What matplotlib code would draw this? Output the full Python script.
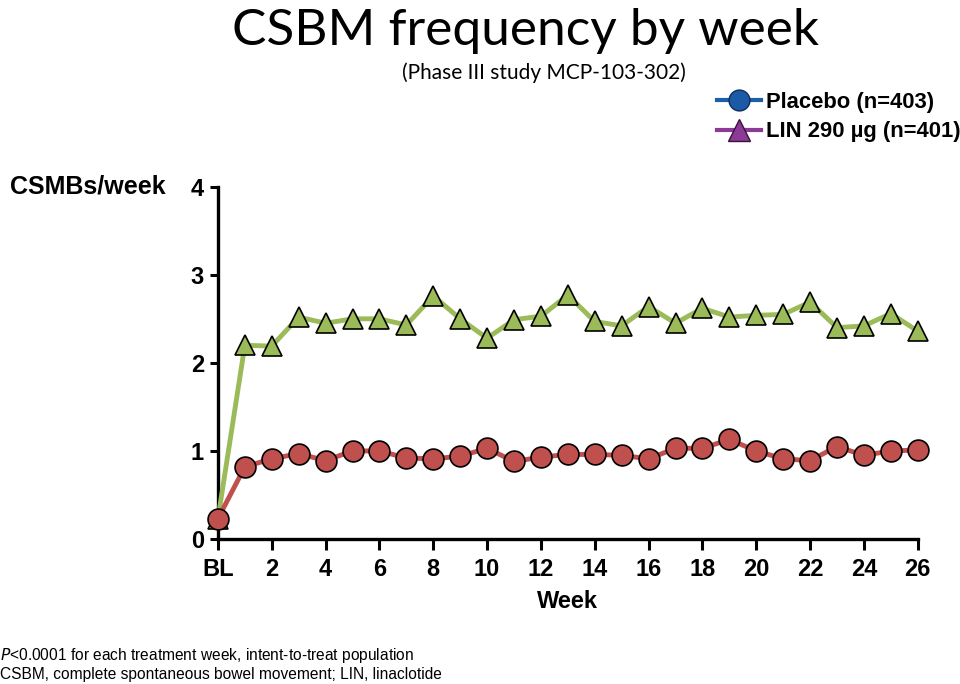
import matplotlib
matplotlib.use("Agg")
import matplotlib.pyplot as plt
from matplotlib.lines import Line2D

# weeks 0 (baseline) .. 26
weeks = list(range(0, 27))
placebo = [0.23, 0.82, 0.91, 0.97, 0.89, 1.00, 1.00, 0.92, 0.91, 0.94, 1.03,
           0.88, 0.93, 0.96, 0.96, 0.95, 0.91, 1.03, 1.03, 1.13, 1.00, 0.91,
           0.89, 1.05, 0.95, 1.00, 1.01]
lin290 = [0.23, 2.20, 2.19, 2.52, 2.45, 2.50, 2.50, 2.43, 2.76, 2.50, 2.28,
          2.49, 2.53, 2.77, 2.47, 2.42, 2.64, 2.45, 2.62, 2.52, 2.54, 2.55,
          2.69, 2.40, 2.42, 2.56, 2.36]
xtick_pos = list(range(0, 27, 2))
xtick_labels = ["BL"] + [str(w) for w in range(2, 27, 2)]

plt.rcParams['font.family'] = ['Liberation Sans', 'DejaVu Sans']

fig = plt.figure(figsize=(9.6, 6.84), dpi=100)
ax = fig.add_axes([0.227, 0.212, 0.729, 0.515])

green = '#9bbb59'
red = '#c0504d'
ax.plot(weeks, lin290, color=green, lw=3.5, marker='^', markersize=15,
        markerfacecolor=green, markeredgecolor='black', markeredgewidth=1.2,
        clip_on=False, zorder=3)
ax.plot(weeks, placebo, color=red, lw=3.5, marker='o', markersize=15,
        markerfacecolor=red, markeredgecolor='black', markeredgewidth=1.2,
        clip_on=False, zorder=4)

ax.set_xlim(0, 26)
ax.set_ylim(0, 4)
ax.set_xticks(xtick_pos)
ax.set_xticklabels(xtick_labels)
ax.set_yticks([0, 1, 2, 3, 4])
for s in ['top', 'right']:
    ax.spines[s].set_visible(False)
for s in ['left', 'bottom']:
    ax.spines[s].set_linewidth(2.4)
ax.tick_params(axis='x', length=8, width=2.2, labelsize=17, pad=6)
ax.tick_params(axis='y', length=6, width=2.2, labelsize=17, pad=4)
for lab in ax.get_xticklabels() + ax.get_yticklabels():
    lab.set_fontweight('bold')
ax.set_xlabel('Week', fontsize=17, fontweight='bold', labelpad=6)

fig.text(0.547, 0.955, 'CSBM frequency by week', ha='center', va='center',
         fontsize=37, family=['Lato', 'DejaVu Sans'])
fig.text(0.567, 0.893, '(Phase III study MCP-103-302)', ha='center', va='center',
         fontsize=15, family=['Lato', 'DejaVu Sans'])
fig.text(0.01, 0.727, 'CSMBs/week', ha='left', va='center', fontsize=18,
         fontweight='bold')

handles = [
    Line2D([], [], color='#1f5fa8', lw=3, marker='o', markersize=15,
           markerfacecolor='#1a5aa6', markeredgecolor='#0d2d5a'),
    Line2D([], [], color='#8b3a96', lw=3, marker='^', markersize=16,
           markerfacecolor='#8b3a96', markeredgecolor='#3a1040'),
]
leg = fig.legend(handles, ['Placebo (n=403)', 'LIN 290 µg (n=401)'],
                 loc='upper left', bbox_to_anchor=(0.747, 0.866), frameon=False,
                 handlelength=2.0, handletextpad=0.25, labelspacing=0.4,
                 borderaxespad=0, borderpad=0,
                 prop={'size': 15.8, 'weight': 'bold'})

fig.text(0.0, 0.042, r'$\it{P}$<0.0001 for each treatment week, intent-to-treat population',
         ha='left', va='center', fontsize=11.2)
fig.text(0.0, 0.014, 'CSBM, complete spontaneous bowel movement; LIN, linaclotide',
         ha='left', va='center', fontsize=11.2)

fig.savefig('out.png', dpi=100)
